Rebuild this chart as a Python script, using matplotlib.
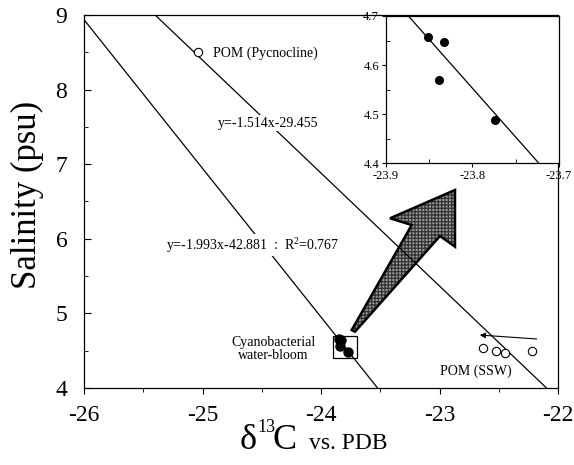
import matplotlib
matplotlib.use("Agg")
import matplotlib.pyplot as plt
import numpy as np
from matplotlib.patches import Polygon, Rectangle
from matplotlib.ticker import MultipleLocator
import matplotlib.transforms as mtransforms

plt.rcParams['font.family'] = ['Liberation Serif', 'DejaVu Serif']
plt.rcParams['mathtext.fontset'] = 'custom'
plt.rcParams['mathtext.rm'] = 'Liberation Serif'
plt.rcParams['axes.unicode_minus'] = False

# Data
cyano_x = [-23.852, -23.833, -23.839, -23.774]
cyano_y = [4.657, 4.647, 4.569, 4.488]
pom_pyc_x = [-25.04]
pom_pyc_y = [8.50]
pom_ssw_x = [-22.63, -22.52, -22.45, -22.22]
pom_ssw_y = [4.53, 4.50, 4.47, 4.50]
fit1 = (-1.993, -42.881)   # cyanobacteria regression
fit2 = (-1.514, -29.455)   # POM mixing line

W, H = 574, 465
fig = plt.figure(figsize=(W / 100, H / 100), dpi=100)
ax = fig.add_axes([84 / W, 1 - 388 / H, (558 - 84) / W, (388 - 15) / H])
ax.set_xlim(-26, -22)
ax.set_ylim(4, 9)

xs = np.linspace(-26.5, -21.5, 50)
for m, b in (fit1, fit2):
    ax.plot(xs, m * xs + b, color='black', lw=0.9, zorder=2)

ax.plot(cyano_x, cyano_y, 'o', color='black', ms=6.5, zorder=5)
ax.plot(pom_pyc_x, pom_pyc_y, 'o', mfc='white', mec='black', ms=6, mew=0.8, zorder=5)
ax.plot(pom_ssw_x, pom_ssw_y, 'o', mfc='white', mec='black', ms=6, mew=0.8, zorder=5)

# box around cyanobacteria points
ax.add_patch(Rectangle((-23.9, 4.4), 0.2, 0.3, fill=False, ec='black', lw=0.9, zorder=4))

# small arrow near SSW
ax.annotate('', xy=(-22.66, 4.71), xytext=(-22.18, 4.657),
            arrowprops=dict(arrowstyle='-|>', color='black', lw=0.8,
                            mutation_scale=8, shrinkA=0, shrinkB=0))

def pix(x, y):
    return (x / W, 1 - y / H)

fs = 10
wb = dict(facecolor='white', edgecolor='none', pad=1.0)
fig.text(*pix(213, 53), 'POM (Pycnocline)', va='center', ha='left', fontsize=fs)
fig.text(*pix(218, 123), 'y=-1.514x-29.455', va='center', ha='left', fontsize=fs, bbox=wb)
fig.text(*pix(166, 245), r'y=-1.993x-42.881  :  R$^{2}$=0.767', va='center', ha='left',
         fontsize=fs, bbox=wb)
fig.text(*pix(273, 349), 'Cyanobacterial\nwater-bloom', va='center', ha='center', fontsize=fs,
         linespacing=1.05)
fig.text(*pix(476, 371), 'POM (SSW)', va='center', ha='center', fontsize=fs)

ax.xaxis.set_major_locator(MultipleLocator(1))
ax.xaxis.set_minor_locator(MultipleLocator(0.5))
ax.yaxis.set_major_locator(MultipleLocator(1))
ax.yaxis.set_minor_locator(MultipleLocator(0.5))
ax.tick_params(axis='x', which='both', direction='out', labelsize=17, pad=8)
ax.tick_params(axis='x', which='major', length=4)
ax.tick_params(axis='x', which='minor', length=3)
ax.tick_params(axis='y', which='both', direction='in', labelsize=17, pad=12)
ax.tick_params(axis='y', which='major', length=5)
ax.tick_params(axis='y', which='minor', length=3)
for s in ax.spines.values():
    s.set_linewidth(0.9)

fig.text(*pix(27, 195), 'Salinity (psu)', fontsize=25, rotation=90, va='center', ha='center')

# x label composed of pieces: delta, superscript 13, C, "vs. PDB"
fig.text(*pix(240, 449), 'δ', fontsize=26, va='baseline', ha='left')
fig.text(*pix(257, 432), '13', fontsize=13, va='baseline', ha='left')
fig.text(*pix(273, 449), 'C', fontsize=26, va='baseline', ha='left')
fig.text(*pix(309, 449), 'vs. PDB', fontsize=17, va='baseline', ha='left')

# big hatched arrow (annotation shape in pixel coordinates), drawn under the lines
tr = mtransforms.Affine2D().scale(1 / W, -1 / H).translate(0, 1) + fig.transFigure
arrow_px = [(351.7, 330), (355, 331.7), (440, 236), (455, 246.7), (455, 190),
            (390, 218.3), (411.7, 225)]
plt.rcParams['hatch.color'] = '#333333'
plt.rcParams['hatch.linewidth'] = 0.9
ax.add_patch(Polygon(arrow_px, closed=True, transform=tr, fc='#9a9a9a',
                     ec='#333333', hatch='+++++', lw=0, zorder=1, clip_on=False))
ax.add_patch(Polygon(arrow_px, closed=True, transform=tr, fill=False,
                     ec='black', lw=1.8, zorder=1.5, clip_on=False))

# inset
ins = fig.add_axes([386 / W, 1 - 163 / H, (559 - 386) / W, (163 - 16) / H])
ins.set_xlim(-23.9, -23.7)
ins.set_ylim(4.4, 4.7)
xi = np.linspace(-23.95, -23.65, 20)
ins.plot(xi, fit1[0] * xi + fit1[1], color='black', lw=0.9)
ins.plot(cyano_x, cyano_y, 'o', color='black', ms=5.5)
ins.xaxis.set_major_locator(MultipleLocator(0.1))
ins.xaxis.set_minor_locator(MultipleLocator(0.05))
ins.yaxis.set_major_locator(MultipleLocator(0.1))
ins.yaxis.set_minor_locator(MultipleLocator(0.05))
ins.xaxis.set_major_formatter(plt.FuncFormatter(lambda v, p: f'{v:.1f}'))
ins.yaxis.set_major_formatter(plt.FuncFormatter(lambda v, p: f'{v:.1f}'))
ins.tick_params(which='both', labelsize=9, pad=2)
ins.tick_params(which='major', direction='out', length=3)
ins.tick_params(which='minor', direction='in', length=3)
for s in ins.spines.values():
    s.set_linewidth(0.9)

fig.savefig('out.png', dpi=100)
